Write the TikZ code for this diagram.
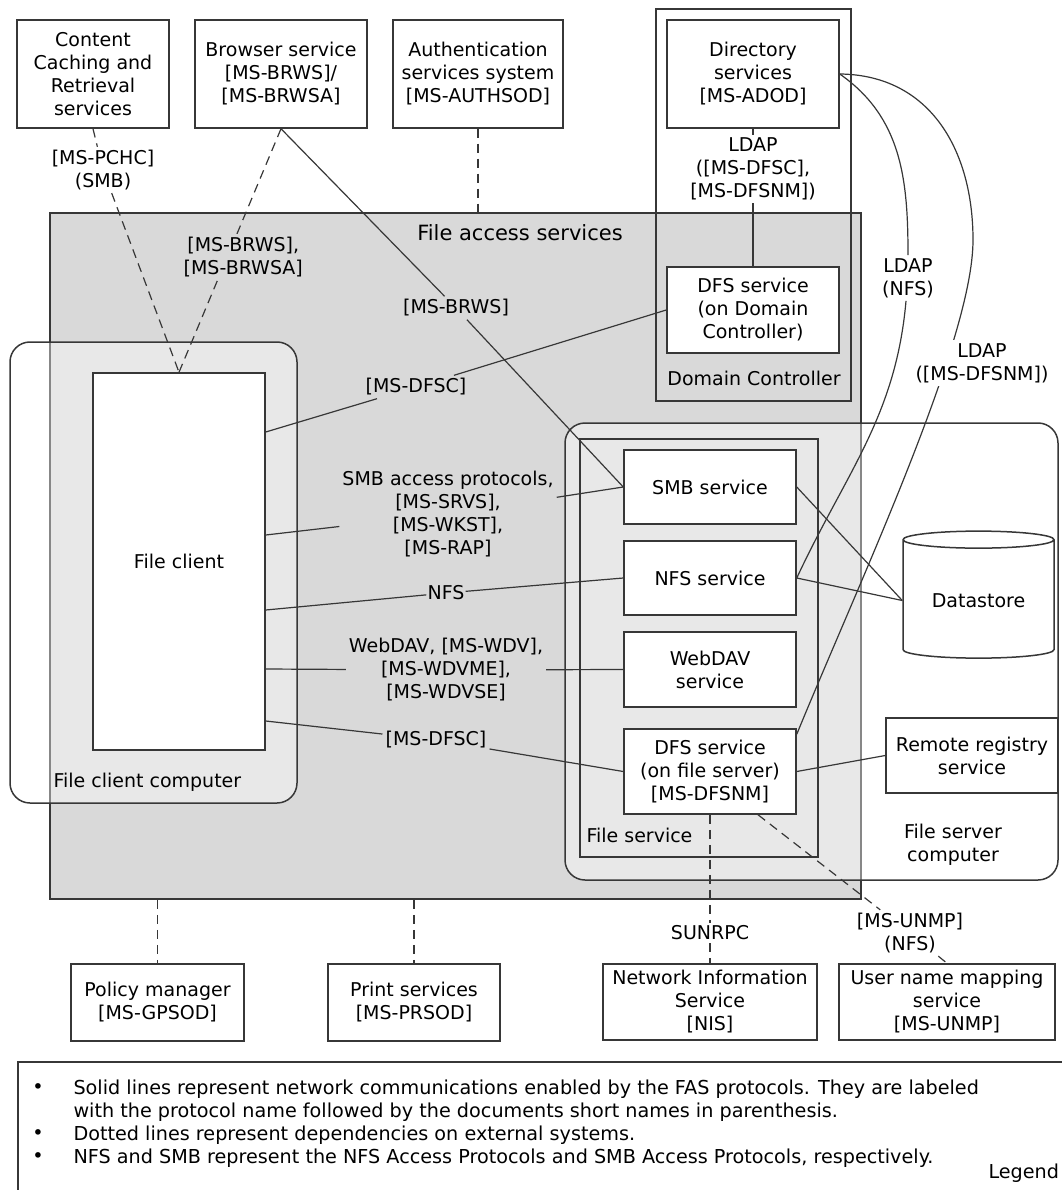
\documentclass[tikz,border=0pt]{standalone}
\usepackage{fontspec}
\setmainfont{DejaVu Sans}
\usetikzlibrary{shapes.geometric}

\definecolor{fasgray}{RGB}{217,217,217}
\definecolor{edgegray}{RGB}{55,55,55}

\begin{document}
\begin{tikzpicture}[
    x=1pt, y=-1pt,      % unidades en pixeles, eje y hacia abajo
    font=\fontsize{19}{23}\selectfont,
    svc/.style={draw=edgegray, line width=1.5pt, fill=white, align=center,
        inner sep=2pt, minimum width=172, minimum height=75},
    cont/.style={draw=edgegray, line width=1.5pt, inner sep=0pt},
    comp/.style={cont, rounded corners=20pt, fill=white, fill opacity=0.4},
    conn/.style={edgegray, line width=1.2pt},
    dep/.style={conn, dash pattern=on 9pt off 6pt},
    lbl/.style={align=center, inner sep=3pt, text=black},
]
\useasboundingbox (0,0) rectangle (1061,1190);

% --- Contenedores ---
\node[cont, line width=1.8pt, fill=fasgray, minimum width=811, minimum height=686] (fas) at (455.5,556) {};
\node[font=\fontsize{21}{25}\selectfont] (fastitle) at (520,233) {File access services};
\node[cont, minimum width=195, minimum height=392] (dc) at (753.5,205) {};
\node (dctitle) at (754,378) {Domain Controller};
\node[comp, minimum width=287, minimum height=461] (fcc) at (153.5,572.5) {};
\node[anchor=west] (fcctitle) at (50,782) {File client computer};
\node[comp, minimum width=493, minimum height=457] (fsc) at (811.5,651.5) {};
\node[align=center] (fsctitle) at (953,845) {File server\\computer};
\node[cont, minimum width=238, minimum height=418] (fsv) at (699,648) {};
\node[anchor=west] (fsvtitle) at (583,835) {File service};

% --- Servicios ---
\node[svc, minimum width=152, minimum height=108] (content) at (93,74) {Content\\Caching and\\Retrieval\\services};
\node[svc, minimum height=108] (browser) at (281,74) {Browser service\\{}[MS-BRWS]/\\{}[MS-BRWSA]};
\node[svc, minimum width=170, minimum height=108] (auth) at (478,74) {Authentication\\services system\\{}[MS-AUTHSOD]};
\node[svc, minimum height=108] (directory) at (753,74) {Directory\\services\\{}[MS-ADOD]};
\node[svc, minimum height=86] (dfsdc) at (753,310) {DFS service\\(on Domain\\Controller)};
\node[svc, minimum height=377] (fileclient) at (179,561.5) {File client};
\node[svc, minimum height=74] (smb) at (710,487) {SMB service};
\node[svc, minimum height=74] (nfs) at (710,578) {NFS service};
\node[svc] (webdav) at (710,669.5) {WebDAV\\service};
\node[svc, minimum height=85] (dfsfs) at (710,771.5) {DFS service\\(on file server)\\{}[MS-DFSNM]};
\node[draw=edgegray, line width=1.5pt, fill=white, cylinder, shape border rotate=90, aspect=0.17,
    minimum width=151, minimum height=127] (datastore) at (978.5,600.5) {Datastore};
\node[svc] (remote) at (972,755.5) {Remote registry\\service};
\node[svc, minimum width=173, minimum height=77] (policy) at (157.5,1002.5) {Policy manager\\{}[MS-GPSOD]};
\node[svc, minimum height=77] (print) at (414,1002.5) {Print services\\{}[MS-PRSOD]};
\node[svc, minimum width=214, minimum height=76] (nis) at (710,1002) {Network Information\\Service\\{}[NIS]};
\node[svc, minimum width=216, minimum height=76] (unmp) at (947,1002) {User name mapping\\service\\{}[MS-UNMP]};

% --- Etiquetas de protocolos ---
\node[lbl] (pchc) at (103,170) {[MS-PCHC]\\(SMB)};
\node[lbl] (brws) at (456,308) {[MS-BRWS]};
\node[lbl] (dfscup) at (416,387) {[MS-DFSC]};
\node[lbl] (ldapdc) at (753,169) {LDAP\\([MS-DFSC],\\{}[MS-DFSNM])};
\node[lbl] (ldapnfs) at (908,278) {LDAP\\(NFS)};
\node[lbl] (smbl) at (448,514) {SMB access protocols,\\{}[MS-SRVS],\\{}[MS-WKST],\\{}[MS-RAP]};
\node[lbl, inner sep=1pt] (nfsl) at (446,593) {NFS};
\node[lbl] (webdavl) at (446,670) {WebDAV, [MS-WDV],\\{}[MS-WDVME],\\{}[MS-WDVSE]};
\node[lbl] (dfsclow) at (436,740) {[MS-DFSC]};
\node[lbl] (sunrpc) at (710,933) {SUNRPC};
\node[lbl] (unmpl) at (910,933) {[MS-UNMP]\\(NFS)};

% --- Lineas continuas (comunicaciones) ---
\draw[conn] (directory.south) -- (ldapdc) -- (dfsdc.north);
\draw[conn] (browser.south) -- (brws) -- (smb.west);
\draw[conn] ([yshift=129.5pt]fileclient.east) -- (dfscup) -- (dfsdc.west);
\draw[conn] ([yshift=26.5pt]fileclient.east) -- (smbl) -- (smb.west);
\draw[conn] ([yshift=-48.5pt]fileclient.east) -- (nfsl) -- (nfs.west);
\draw[conn] ([yshift=-107.5pt]fileclient.east) -- (webdavl) -- (webdav.west);
\draw[conn] ([yshift=-159.5pt]fileclient.east) -- (dfsclow) -- (dfsfs.west);
\draw[conn] (smb.east) -- (datastore.west);
\draw[conn] (nfs.east) -- (datastore.west);
\draw[conn] (dfsfs.east) -- (remote.west);
% curvas LDAP desde el directorio
\draw[conn] (directory.east) to[out=-35, in=90] (ldapnfs) to[out=-95, in=65] (nfs.east);
\draw[conn] (directory.east) .. controls (930,75) and (973,150) .. (973,240)
    .. controls (973,340) and (860,580) .. ([yshift=-6pt]dfsfs.north east);
\node[lbl, fill=white] (ldapdfsnm) at (982,363) {LDAP\\([MS-DFSNM])};

% --- Dependencias externas (discontinuas) ---
\draw[dep] (content.south) -- (pchc) -- (fileclient.north);
\draw[dep] (browser.south) -- node[lbl, fill=fasgray, pos=0.527, xshift=16pt] (brwsa) {[MS-BRWS],\\{}[MS-BRWSA]} (fileclient.north);
\draw[dep] (auth.south) -- (auth.south |- fas.north);
\draw[dep] (policy.north |- fas.south) -- (policy.north);
\draw[dep] (print.north |- fas.south) -- (print.north);
\draw[dep] (dfsfs.south) -- (sunrpc) -- (nis.north);
\draw[dep] ([xshift=48pt]dfsfs.south) -- (unmpl) -- (unmp.north);

% --- Leyenda ---
\node[cont, anchor=north west, minimum width=1070, minimum height=150] (legend) at (17,1061) {};
\begin{scope}[font=\fontsize{19.2}{23}\selectfont]
\node (bul1) at (38,1089) {\textbullet};
\node (bul2) at (38,1135) {\textbullet};
\node (bul3) at (38,1158) {\textbullet};
\node[anchor=west, align=left] (leg1) at (70,1100.5) {Solid lines represent network communications enabled by the FAS protocols. They are labeled\\with the protocol name followed by the documents short names in parenthesis.};
\node[anchor=west] (leg2) at (70,1135) {Dotted lines represent dependencies on external systems.};
\node[anchor=west] (leg3) at (70,1158) {NFS and SMB represent the NFS Access Protocols and SMB Access Protocols, respectively.};
\node[anchor=west] (legtitle) at (985,1173) {Legend};
\end{scope}

\end{tikzpicture}
\end{document}
